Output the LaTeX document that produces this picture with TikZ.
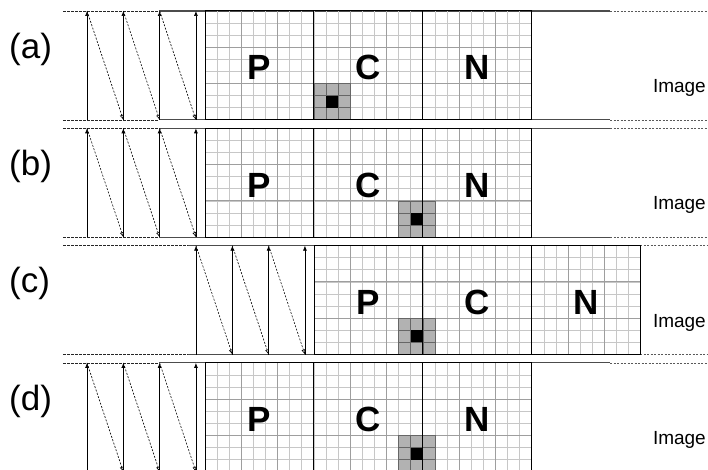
\documentclass[tikz,border=0pt]{standalone}
\usepackage{fontspec}
\setmainfont{Liberation Sans}
\usetikzlibrary{arrows.meta}
\tikzset{
  cellthin/.style ={line width=0.8pt, black!22},
  cellmid/.style  ={line width=1pt, black!38},
  blockln/.style  ={line width=1pt, black},
  hotcell/.style  ={fill=black!30},
  hotln/.style    ={line width=0.8pt, black!60},
  upar/.style     ={-{Latex[length=5pt, width=4pt]}, line width=0.7pt},                                   % scan up
  backar/.style   ={-{Latex[open, length=5pt, width=4pt]}, line width=0.6pt, dash pattern=on 2pt off 1.5pt}, % fly back
  edgeln/.style   ={line width=1.1pt, black!70},
  lead/.style     ={line width=0.7pt, black!85, dash pattern=on 2.5pt off 1.5pt},
  tail/.style     ={line width=0.7pt, black!65, dash pattern=on 2pt off 1.5pt},
  blklbl/.style   ={font=\fontsize{35}{40}\selectfont\bfseries, inner sep=0pt, anchor=base},
  rowlbl/.style   ={font=\fontsize{35}{40}\selectfont, inner sep=0pt, anchor=base west},
  imglbl/.style   ={font=\fontsize{19}{22}\selectfont, inner sep=0pt, anchor=base east},
}
\begin{document}
\begin{tikzpicture}[x=1pt, y=-1pt]
  \useasboundingbox (0,0) rectangle (708,470);
  \foreach \r/\top/\gx/\hc/\s/\e in {a/11/205/9/159/610, b/128.3/205/16/159/610,
                                     c/245.6/314/7/188/577, d/362.9/205/16/159/610}{
    \node[rowlbl] (lbl\r) at (9,\top+47.3) {(\r)};
    \node[imglbl] (img\r) at (706,\top+81.5) {Image};
    \foreach \y in {\top,\top+108.9}{
      \draw[lead] (63,\y) -- (\s,\y);
      \draw[edgeln] (\s,\y) -- (\e,\y);
      \draw[tail] (\e,\y) -- (708,\y);
    }
    \begin{scope}[shift={(\gx,\top)}, x=12.1pt, y=-12.1pt]
      \foreach \k in {1,...,26} \draw[cellthin] (\k,0) -- (\k,9);
      \foreach \k in {1,...,8} \draw[cellthin] (0,\k) -- (27,\k);
      \foreach \k in {3,6,12,15,21,24} \draw[cellmid] (\k,0) -- (\k,9);
      \foreach \k in {3,6} \draw[cellmid] (0,\k) -- (27,\k);
      \fill[hotcell] (\hc,6) rectangle ++(3,3);
      \foreach \k in {1,2}{
        \draw[hotln] (\hc+\k,6) -- ++(0,3);
        \draw[hotln] (\hc,6+\k) -- ++(3,0);
      }
      \draw[hotln] (\hc,6) rectangle ++(3,3);
      \fill (\hc+1,7) rectangle ++(1,1);
      \foreach \k in {9,18} \draw[blockln] (\k,0) -- (\k,9);
      \draw[blockln] (0,0) rectangle (27,9);
      \node[blklbl] (P\r) at (4.5,5.7) {P};
      \node[blklbl] (C\r) at (13.5,5.7) {C};
      \node[blklbl] (N\r) at (22.5,5.7) {N};
      \foreach \k in {0,...,3}{
        \coordinate (\r-t\k) at (-0.75-3*\k,0);
        \coordinate (\r-b\k) at (-0.75-3*\k,9);
        \draw[upar] (\r-b\k) -- (\r-t\k);
      }
      \foreach \k/\j in {1/0,2/1,3/2} \draw[backar] (\r-t\k) -- (\r-b\j);
    \end{scope}
  }
\end{tikzpicture}
\end{document}
